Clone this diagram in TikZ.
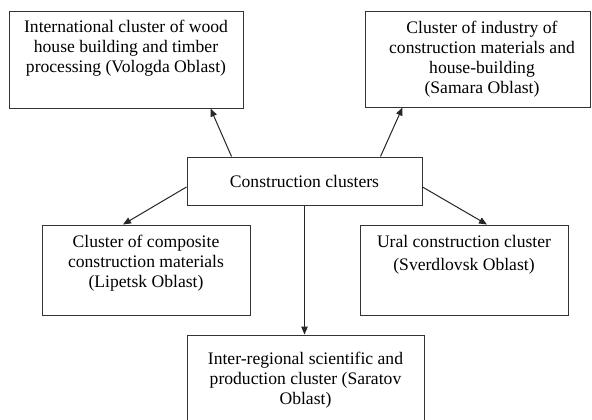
\documentclass[tikz,border=0pt]{standalone}
\usepackage{fontspec}
\setmainfont{Liberation Serif}
\usetikzlibrary{arrows.meta}
\newcommand\cbtext[4]{\begin{minipage}[c][#2][t]{#1}\centering\vspace*{#3}#4\end{minipage}}
\begin{document}
\begin{tikzpicture}[x=1pt,y=-1pt,
  font=\fontsize{17.6}{20}\selectfont,
  cbox/.style={draw=black!80, line width=1pt, inner sep=0pt, fill=white},
  conn/.style={draw=black!85, line width=1pt, -{Triangle[length=8pt,width=6.5pt]}}]
\useasboundingbox[fill=white] (0,0) rectangle (592,420);
\node[cbox] (TL) at (126,60) {\cbtext{234pt}{96pt}{8.6pt}{International cluster of wood\\house building and timber\\processing (Vologda Oblast)}};
\node[cbox] (TR) at (477.5,59.5) {\cbtext{225pt}{95pt}{8.7pt}{\leftskip=9pt plus 1fil Cluster of industry of\\construction materials and\\house-building\\(Samara Oblast)}};
\node[cbox] (C) at (304.5,181) {\cbtext{235pt}{48pt}{18.2pt}{Construction clusters}};
\node[cbox] (L) at (146,270) {\cbtext{208pt}{90pt}{10.5pt}{Cluster of composite\\construction materials\\(Lipetsk Oblast)}};
\node[cbox] (R) at (464,270) {\cbtext{208pt}{90pt}{10.2pt}{Ural construction cluster\\[3.3pt](Sverdlovsk Oblast)}};
\node[cbox] (B) at (305.5,379) {\cbtext{237pt}{88pt}{17.6pt}{Inter-regional scientific and\\production cluster (Saratov\\Oblast)}};
\draw[conn] ([xshift=45pt]C.north west) -- ([xshift=-33pt]TL.south east);
\draw[conn] ([xshift=-42pt]C.north east) -- ([xshift=38pt]TR.south west);
\draw[conn] ([yshift=-6pt]C.west) -- ([xshift=-23pt]L.north);
\draw[conn] ([yshift=-6pt]C.east) -- ([xshift=23pt]R.north);
\draw[conn] (C.south) -- (C.south |- B.north);
\end{tikzpicture}
\end{document}
